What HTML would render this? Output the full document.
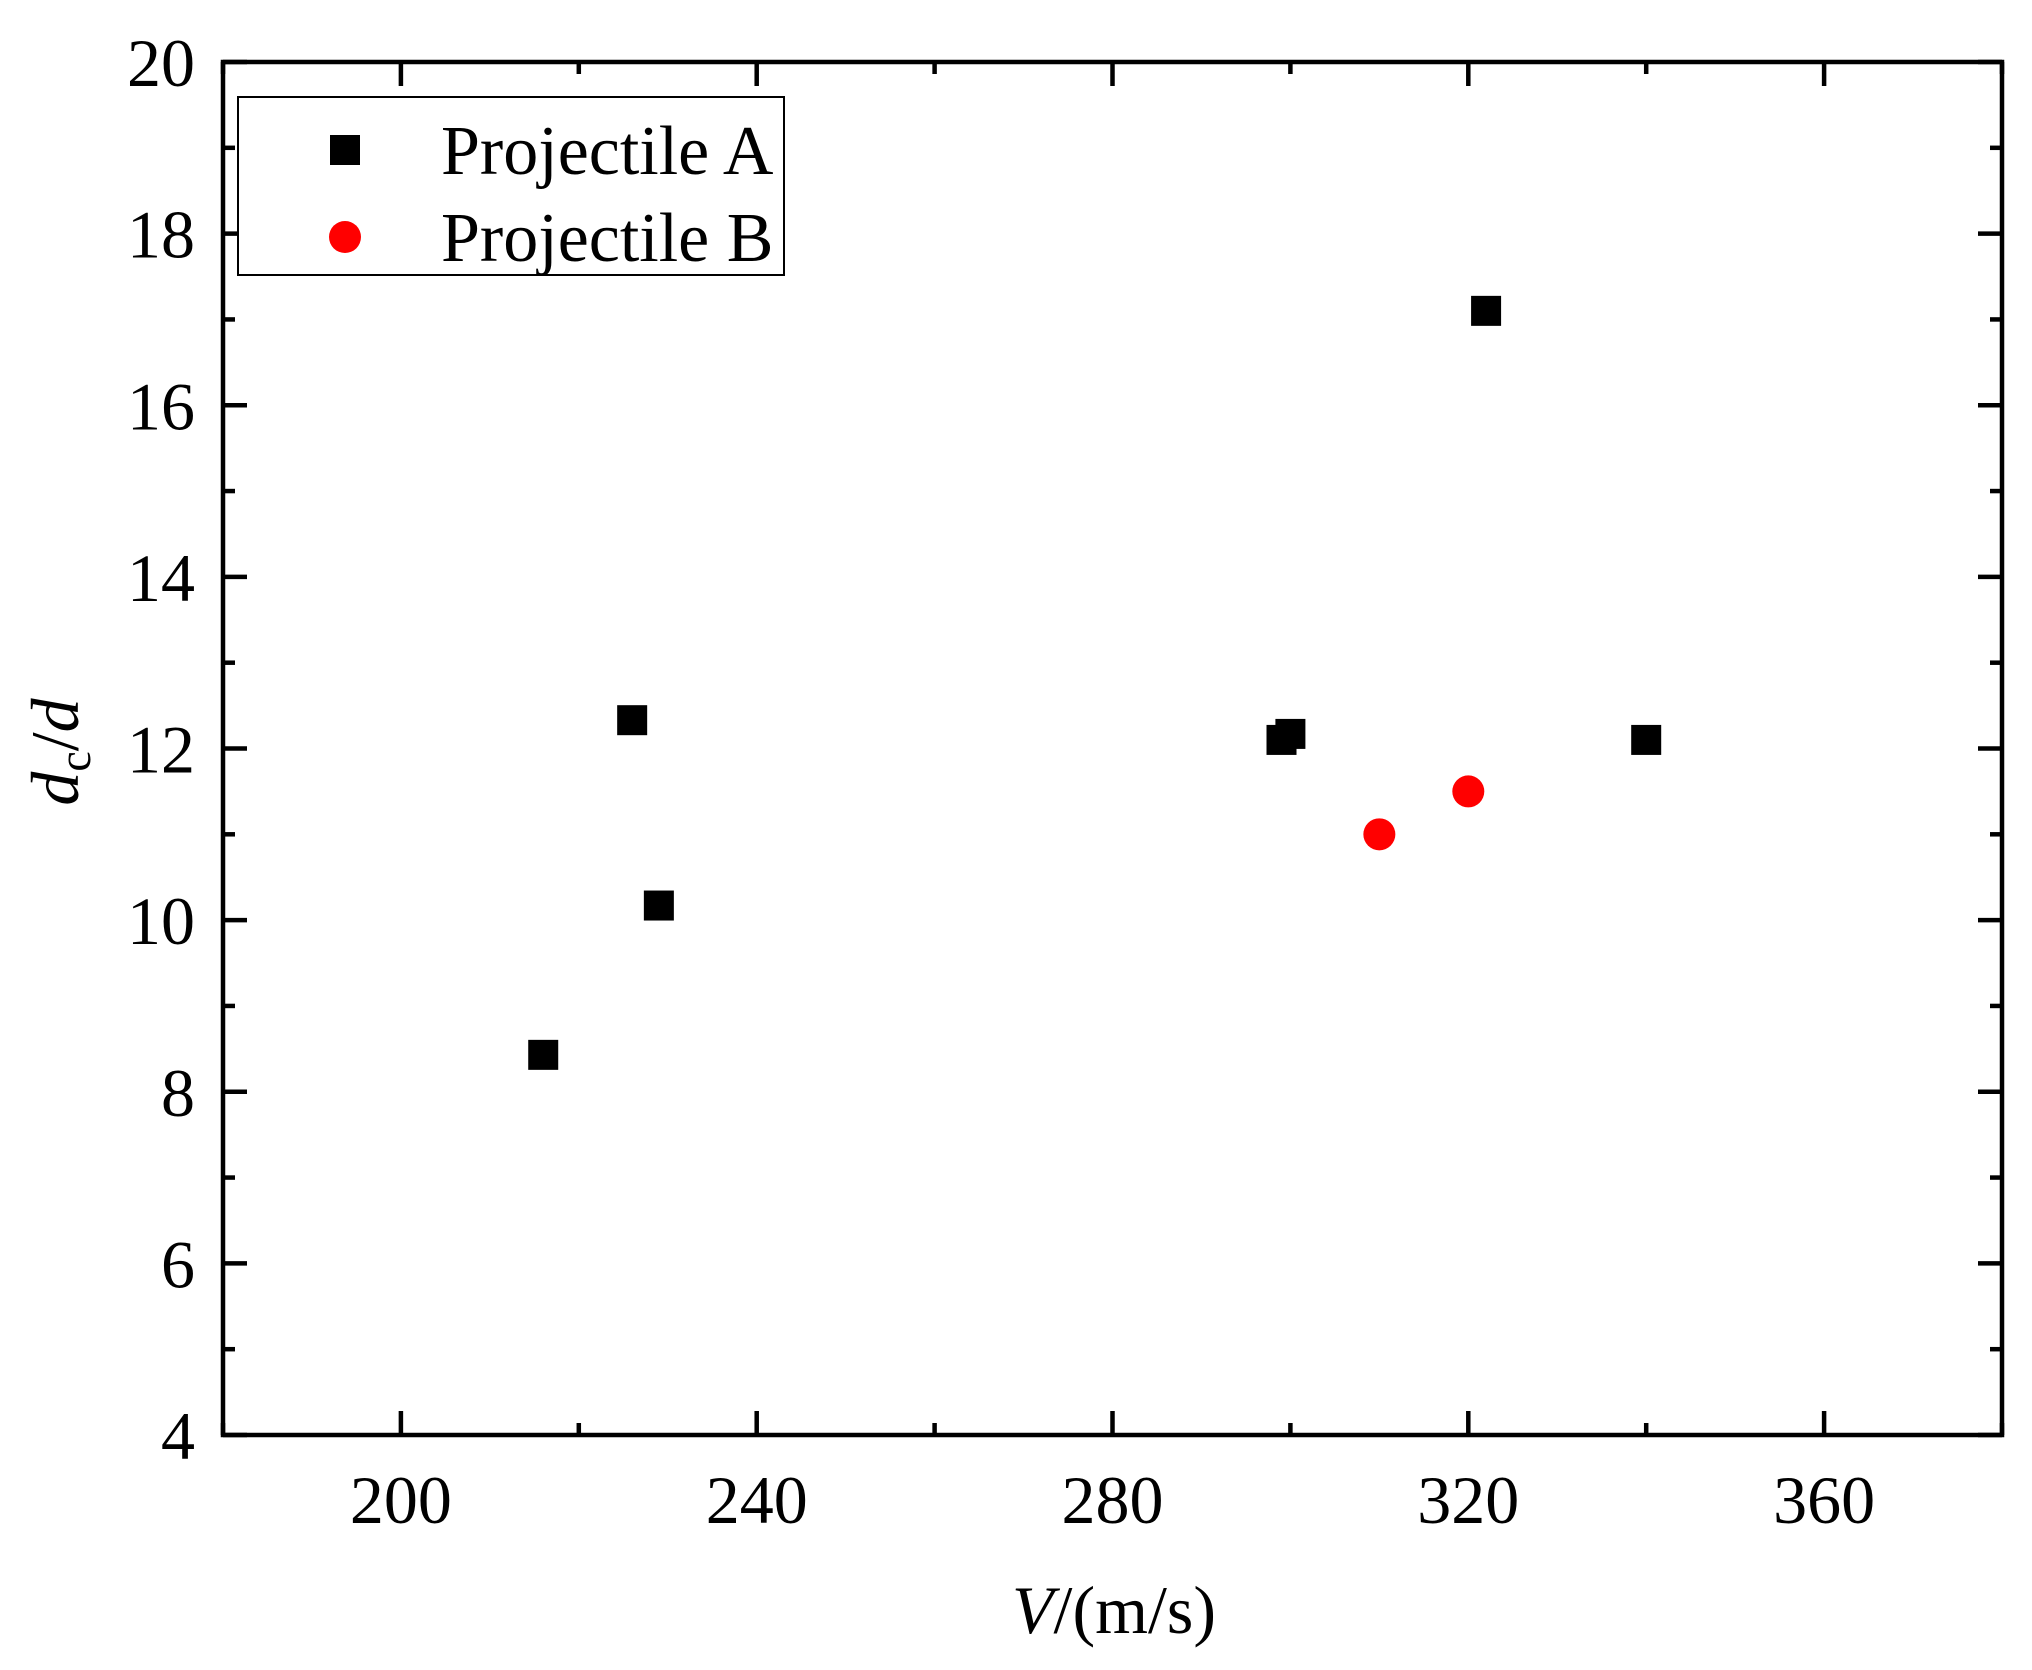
<!DOCTYPE html>
<html><head><meta charset="utf-8"><style>
html,body{margin:0;padding:0;background:#fff}
svg{display:block}
text{font-family:"Liberation Serif",serif;fill:#000}
</style></head><body>
<svg id="chart" width="2032" height="1670" xmlns="http://www.w3.org/2000/svg">
<rect x="0" y="0" width="2032" height="1670" fill="#fff"/>
<g id="ticks"></g>
<g id="marks"></g>
<rect x="223" y="62" width="1779" height="1373" fill="none" stroke="#000" stroke-width="4.5"/>
<g>
<rect x="238" y="97" width="546" height="178" fill="#fff" stroke="#000" stroke-width="2"/>
<rect x="330" y="135" width="30" height="30" fill="#000"/>
<text x="441" y="174" font-size="70">Projectile A</text>
<circle cx="345" cy="237" r="16" fill="#ff0000"/>
<text x="441" y="261" font-size="70">Projectile B</text>
</g>
<text x="1114" y="1633" font-size="68" text-anchor="middle"><tspan font-style="italic">V</tspan>/(m/s)</text>
<text transform="translate(78,752) rotate(-90)" font-size="68" text-anchor="middle"><tspan font-style="italic">d</tspan><tspan font-size="46" dy="12">c</tspan><tspan dy="-12">/</tspan><tspan font-style="italic">d</tspan></text>
</svg>
<script>
const xTicks=[200,240,280,320,360];
const yTicks=[4,6,8,10,12,14,16,18,20];
const aX=[216,226,229,299,300,322,340];
const aY=[8.43,12.33,10.17,12.1,12.17,17.1,12.1];
const bX=[310,320];
const bY=[11.0,11.5];
const L=223,R=2002,T=62,B=1435;
const xmin=180,xmax=380,ymin=4,ymax=20;
const sx=v=>L+(v-xmin)/(xmax-xmin)*(R-L);
const sy=v=>B-(v-ymin)/(ymax-ymin)*(B-T);
const NS='http://www.w3.org/2000/svg';
const tg=document.getElementById('ticks'),mg=document.getElementById('marks');
function mk(tag,at,par){const e=document.createElementNS(NS,tag);for(const k in at)e.setAttribute(k,at[k]);par.appendChild(e);return e;}
function ln(x1,y1,x2,y2){const e=mk('line',{x1,y1,x2,y2,stroke:'#000','stroke-width':4.5},tg);

}
for(let v=180;v<=380;v+=20){const x=sx(v);const len=(v%40===0)?24:12;ln(x,B,x,B-len);ln(x,T,x,T+len);}
for(let v=4;v<=20;v+=1){const y=sy(v);const len=(v%2===0)?24:12;ln(L,y,L+len,y);ln(R,y,R-len,y);}
xTicks.forEach(v=>{const t=mk('text',{x:sx(v),y:B+88,'font-size':68,'text-anchor':'middle'},tg);t.textContent=v;

});
yTicks.forEach(v=>{const t=mk('text',{x:L-28,y:sy(v)+24,'font-size':68,'text-anchor':'end'},tg);t.textContent=v;

});
aX.forEach((v,i)=>{const r=mk('rect',{x:sx(v)-15,y:sy(aY[i])-15,width:30,height:30,fill:'#000'},mg);

});
bX.forEach((v,i)=>{const c=mk('circle',{cx:sx(v),cy:sy(bY[i]),r:16,fill:'#ff0000'},mg);

});
</script>
</body></html>
